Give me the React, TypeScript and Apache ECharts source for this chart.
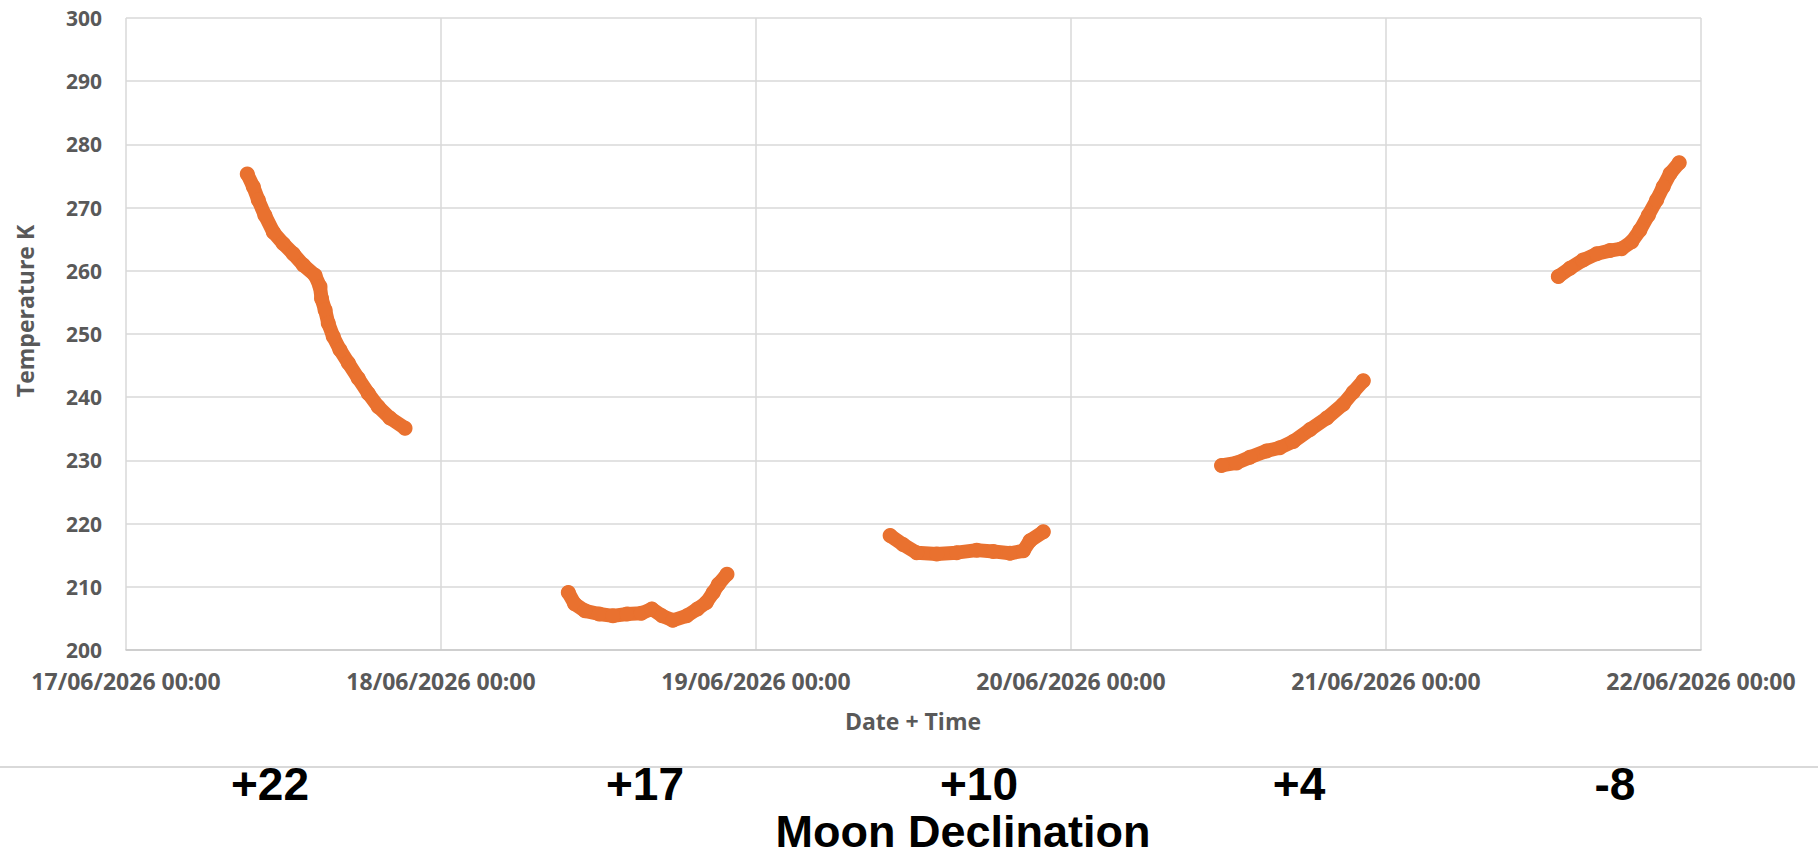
import React, { useEffect, useRef } from "react";
import * as echarts from "echarts";

// x values: hours since 17/06/2026 00:00 ; y values: temperature (K)
const tickLabels = [
  "17/06/2026 00:00",
  "18/06/2026 00:00",
  "19/06/2026 00:00",
  "20/06/2026 00:00",
  "21/06/2026 00:00",
  "22/06/2026 00:00",
];

const segment1: [number, number][] = [
  [9.24, 275.3], [9.7, 273.3], [10.08, 271.2], [10.58, 268.8], [11.23, 266.1],
  [11.98, 264.3], [12.74, 262.7], [13.51, 260.9], [14.4, 259.3], [14.78, 257.5],
  [14.9, 255.6], [15.17, 253.8], [15.41, 251.7], [15.79, 249.6], [16.3, 247.5],
  [16.94, 245.4], [17.69, 243.0], [18.46, 240.6], [19.22, 238.5], [20.11, 236.7],
  [21.26, 235.1],
];

const segment2: [number, number][] = [
  [33.7, 209.1], [34.18, 207.3], [34.97, 206.2], [36.05, 205.7], [37.1, 205.4],
  [38.18, 205.7], [39.26, 205.8], [40.06, 206.5], [40.85, 205.4], [41.66, 204.7],
  [42.72, 205.4], [43.54, 206.5], [44.21, 207.5], [44.74, 209.1], [45.14, 210.4],
  [45.79, 212.0],
];

const segment3: [number, number][] = [
  [58.22, 218.1], [59.2, 216.7], [60.24, 215.4], [61.77, 215.2], [63.29, 215.4],
  [64.82, 215.8], [66.08, 215.6], [67.35, 215.3], [68.37, 215.7], [68.88, 217.3],
  [69.89, 218.7],
];

const segment4: [number, number][] = [
  [83.47, 229.2], [84.62, 229.6], [85.63, 230.5], [86.9, 231.5], [87.91, 232.0],
  [88.94, 233.0], [90.22, 234.9], [91.49, 236.7], [92.74, 238.9], [93.5, 240.8],
  [94.27, 242.6],
];

const segment5: [number, number][] = [
  [109.13, 259.1], [110.02, 260.4], [111.02, 261.7], [112.06, 262.7], [113.06, 263.2],
  [113.95, 263.5], [114.72, 264.6], [115.34, 266.4], [115.99, 268.8], [116.62, 271.2],
  [117.12, 273.3], [117.65, 275.4], [118.34, 277.1],
];

const declinationLabels = ["+22", "+17", "+10", "+4", "-8"];
const declinationX = [270, 645, 979, 1299, 1615];

const ORANGE = "#E9712F";
const GRAY_TEXT = "#595959";

export default function App() {
  const ref = useRef<HTMLDivElement>(null);

  useEffect(() => {
    if (!ref.current) return;
    const chart = echarts.init(ref.current, undefined, { renderer: "svg" });

    const segments = [segment1, segment2, segment3, segment4, segment5];

    const series = segments.map((seg) => ({
      type: "line",
      data: seg,
      smooth: false,
      symbol: "circle",
      symbolSize: 15,
      showSymbol: true,
      itemStyle: { color: ORANGE },
      lineStyle: { color: ORANGE, width: 14, cap: "round", join: "round" },
      emphasis: { disabled: true },
      silent: true,
    }));

    const graphics: any[] = [
      {
        type: "text",
        x: 913,
        y: 721,
        style: {
          text: "Date + Time",
          font: 'bold 23px "Open Sans"',
          fill: GRAY_TEXT,
          textAlign: "center",
          textVerticalAlign: "middle",
        },
      },
      {
        type: "text",
        x: 25,
        y: 311,
        rotation: Math.PI / 2,
        style: {
          text: "Temperature K",
          font: 'bold 23px "Open Sans"',
          fill: GRAY_TEXT,
          textAlign: "center",
          textVerticalAlign: "middle",
        },
      },
      {
        type: "line",
        shape: { x1: 0, y1: 767, x2: 1818, y2: 767 },
        style: { stroke: "#D9D9D9", lineWidth: 2 },
      },
      ...declinationLabels.map((t, i) => ({
        type: "text",
        x: declinationX[i],
        y: 784,
        style: {
          text: t,
          font: 'bold 46px "Liberation Sans"',
          fill: "#000000",
          textAlign: "center",
          textVerticalAlign: "middle",
        },
      })),
      {
        type: "text",
        x: 963,
        y: 831,
        style: {
          text: "Moon Declination",
          font: 'bold 45px "Liberation Sans"',
          fill: "#000000",
          textAlign: "center",
          textVerticalAlign: "middle",
        },
      },
    ];

    chart.setOption({
      animation: false,
      backgroundColor: "#ffffff",
      grid: { left: 126, right: 117, top: 18, bottom: 209, containLabel: false },
      xAxis: {
        type: "value",
        min: 0,
        max: 120,
        interval: 24,
        axisLine: { show: true, lineStyle: { color: "#C8C8C8", width: 1.5 } },
        axisTick: { show: false },
        splitLine: { show: true, lineStyle: { color: "#D9D9D9", width: 1.5 } },
        axisLabel: {
          margin: 19,
          color: GRAY_TEXT,
          fontFamily: "Open Sans",
          fontWeight: "bold",
          fontSize: 23,
          showMinLabel: true,
          showMaxLabel: true,
          hideOverlap: false,
          formatter: (v: number) => tickLabels[Math.round(v / 24)] ?? "",
        },
      },
      yAxis: {
        type: "value",
        min: 200,
        max: 300,
        interval: 10,
        axisLine: { show: false },
        axisTick: { show: false },
        splitLine: { show: true, lineStyle: { color: "#D9D9D9", width: 1.5 } },
        axisLabel: {
          margin: 24,
          color: GRAY_TEXT,
          fontFamily: "Open Sans",
          fontWeight: "bold",
          fontSize: 21,
        },
      },
      series,
      graphic: graphics,
    });

    return () => chart.dispose();
  }, []);

  return (
    <div
      ref={ref}
      style={{ position: "fixed", left: 0, top: 0, width: 1818, height: 859, background: "#fff" }}
    />
  );
}
